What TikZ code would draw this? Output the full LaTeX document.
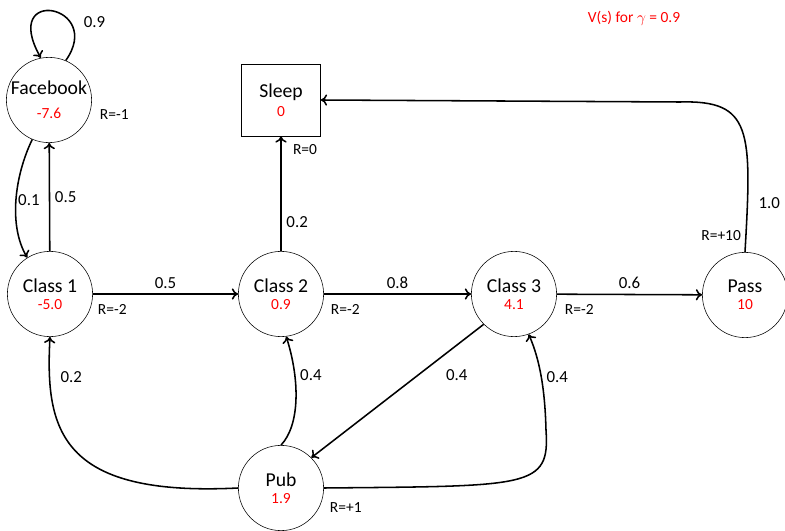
\documentclass[tikz,border=0pt]{standalone}
\usepackage{fontspec}
\setmainfont{Carlito}
\usepackage{xcolor}
\usetikzlibrary{arrows.meta,positioning,calc}
\newcommand{\sval}[1]{{\color{red}\fontsize{11}{12}\selectfont #1}}

\begin{document}
\begin{tikzpicture}[
        x=0.025cm, y=-0.025cm,
        >={To[length=4.5pt, width=8pt]},
        every node/.style={font=\fontsize{12}{14}\selectfont},
        state/.style={circle, draw, thin, minimum size=2.13cm, inner sep=0pt, align=center, font=\fontsize{14}{12}\selectfont},
        sink/.style={rectangle, draw, thin, minimum width=1.975cm, minimum height=1.8cm, inner sep=0pt, align=center, font=\fontsize{14}{12}\selectfont},
        reward/.style={font=\fontsize{11}{13}\selectfont, inner sep=2pt, anchor=west},
        move/.style={->, line width=1.1pt}
    ]
        \useasboundingbox (0,0) rectangle (785,531);

        \node[state] (facebook) at (49,100) {Facebook\\[5pt]\sval{-7.6}};
        \node[sink] (sleep) at (281,100) {Sleep\\[1.5pt]\sval{0}};
        \node[state] (class1) at (50,294) {Class 1\\\sval{-5.0}};
        \node[state] (class2) at (281,294) {Class 2\\\sval{0.9}};
        \node[state] (class3) at (514,294) {Class 3\\\sval{4.1}};
        \node[state] (pass) at (745,295) {Pass\\\sval{10}};
        \node[state] (pub) at (281,488) {Pub\\\sval{1.9}};

        \node[text=red, font=\fontsize{11}{13}\selectfont] (title) at (634,18) {V(s) for $\gamma$ = 0.9};

        % rewards
        \node[reward] (rfacebook) at ($(facebook.east)+(5,15)$) {R=-1};
        \node[reward] (rsleep) at ($(sleep.south)+(9,13)$) {R=0};
        \node[reward] (rclass1) at ($(class1.east)+(2,15)$) {R=-2};
        \node[reward] (rclass2) at ($(class2.east)+(4,15)$) {R=-2};
        \node[reward] (rclass3) at ($(class3.east)+(5,15)$) {R=-2};
        \node[reward, anchor=east] (rpass) at ($(pass.north)+(-1,-17)$) {R=+10};
        \node[reward] (rpub) at ($(pub.east)+(3,20)$) {R=+1};

        % transitions
        \draw[move] (facebook.67) .. controls (105,5) and (0,-15) .. node[pos=0.3, right=6pt] {0.9} (facebook.101);
        \draw[move] (facebook.-113) .. controls (15,175) and (8,225) .. node[pos=0.5, right, inner sep=1pt] {0.1} (class1.122);
        \draw[move] (class1) -- node[right] {0.5} (facebook);
        \draw[move] (class1) -- node[above] {0.5} (class2);
        \draw[move] (class2) -- node[pos=0.25, right] {0.2} (sleep);
        \draw[move] (class2) -- node[above] {0.8} (class3);
        \draw[move] (class3) -- node[above] {0.6} (pass);
        \draw[move] (pass.north) .. controls (752,130) and (752,100) .. node[pos=0.15, right=4pt] {1.0} (680,102) -- (sleep.east);
        \draw[move] (class3.225) -- node[pos=0.38, right=16pt] {0.4} (pub.45);
        \draw[move] (pub.north) .. controls (300,425) and (300,380) .. node[pos=0.7, right] {0.4} (class2.-83);
        \draw[move] (pub.east) .. controls (530,486) and (550,488) .. (546,430) .. controls (545,390) and (540,360) .. node[pos=0.5, right] {0.4} (class3.-70);
        \draw[move] (pub.west) .. controls (60,497) and (45,430) .. node[pos=0.85, right=4pt] {0.2} (class1.south);
    \end{tikzpicture}
\end{document}
